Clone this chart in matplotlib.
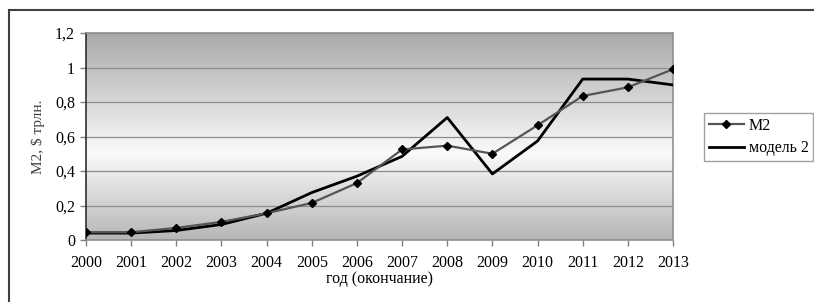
import matplotlib.pyplot as plt
import numpy as np
from matplotlib.colors import LinearSegmentedColormap
from matplotlib.patches import Rectangle
from matplotlib.ticker import FuncFormatter

plt.rcParams['font.family'] = ['Liberation Serif', 'DejaVu Serif']

# Data
years = [2000, 2001, 2002, 2003, 2004, 2005, 2006, 2007, 2008, 2009, 2010, 2011, 2012, 2013]
m2 = [0.045, 0.045, 0.07, 0.105, 0.155, 0.215, 0.33, 0.525, 0.547, 0.50, 0.665, 0.835, 0.885, 0.99]
model2 = [0.04, 0.04, 0.055, 0.09, 0.155, 0.275, 0.37, 0.485, 0.71, 0.383, 0.574, 0.933, 0.933, 0.899]
yticks = [0, 0.2, 0.4, 0.6, 0.8, 1.0, 1.2]

fig = plt.figure(figsize=(8.14, 3.02), dpi=100)
ax = fig.add_axes([0.1057, 0.2053, 0.7211, 0.6854])

# outer frame (cut by image edges on right and bottom)
fig.patches.append(Rectangle((9 / 814, -0.1), 1.2, 1 - 10 / 302 + 0.1, transform=fig.transFigure,
                             fill=False, edgecolor='#404040', linewidth=1.5))

# gradient background of plot area
cmap = LinearSegmentedColormap.from_list('bg', [(0, '#b6b6b6'), (0.42, '#fafafa'), (1, '#a9a9a9')])
grad = np.linspace(0, 1, 256).reshape(-1, 1)
ax.imshow(grad, cmap=cmap, aspect='auto', extent=[0, 1, 0, 1], origin='lower',
          transform=ax.transAxes, zorder=0)

ax.plot(years, model2, color='black', linewidth=2.0, zorder=3)
ax.plot(years, m2, color='#555555', linewidth=1.6, marker='D', markersize=4.5,
        markerfacecolor='black', markeredgecolor='black', zorder=4)

ax.set_xlim(2000, 2013)
ax.set_ylim(0, 1.2)
ax.set_xticks(years)
ax.set_yticks(yticks)
ax.yaxis.set_major_formatter(FuncFormatter(lambda v, p: ('%g' % round(v, 1)).replace('.', ',')))
ax.tick_params(axis='both', labelsize=11.5, length=4, color='#808080', width=1)
ax.tick_params(axis='x', pad=7)
ax.tick_params(axis='y', pad=4)
ax.grid(axis='y', color='#8c8c8c', linewidth=0.9, zorder=1)

for s in ['top', 'right', 'bottom']:
    ax.spines[s].set_color('#909090')
    ax.spines[s].set_linewidth(1.2)
ax.spines['left'].set_color('#303030')
ax.spines['left'].set_linewidth(1.2)

ax.set_ylabel('M2, $ трлн.', fontsize=11, color='#404040', labelpad=7)
ax.set_xlabel('год (окончание)', fontsize=11.5, labelpad=0)

fig.legend([ax.lines[1], ax.lines[0]], ['M2', 'модель 2'],
           loc='upper left', bbox_to_anchor=(704 / 814, 1 - 113 / 302),
           fancybox=False, edgecolor='#a0a0a0', framealpha=1, fontsize=11.5,
           handlelength=2.2, borderpad=0.3, labelspacing=0.4, handletextpad=0.3,
           borderaxespad=0)

fig.savefig('out.png', dpi=100)
